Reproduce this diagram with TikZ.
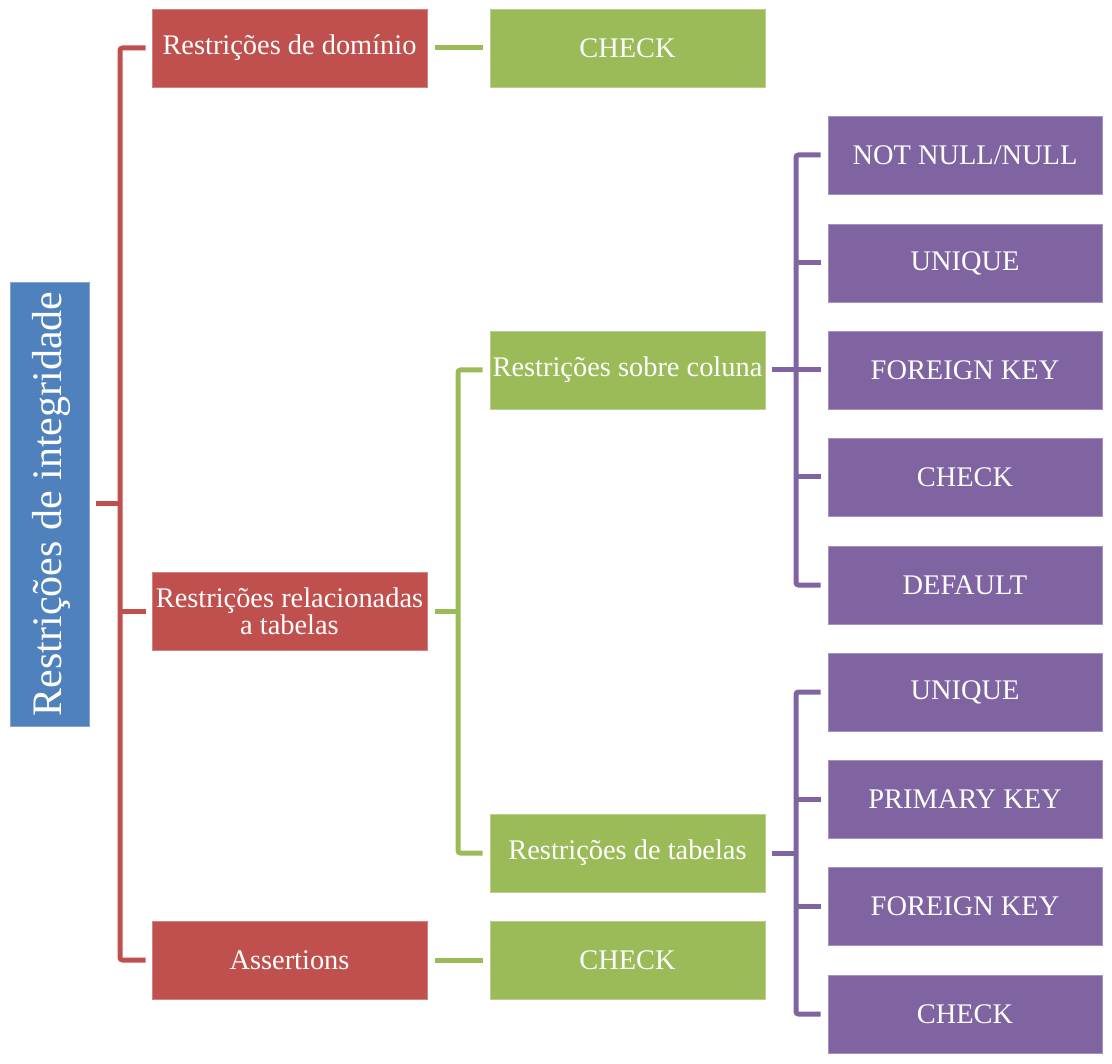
\documentclass[tikz,border=0pt]{standalone}
\usepackage{fontspec}
\setmainfont{Liberation Serif}
\usetikzlibrary{positioning}
\definecolor{cred}{HTML}{C0504D}
\definecolor{cgreen}{HTML}{9BBB59}
\definecolor{cpurple}{HTML}{8064A2}
\definecolor{cblue}{HTML}{4F81BD}
\begin{document}
\begin{tikzpicture}[x=1pt,y=-1pt,
  box/.style={rectangle, minimum width=275pt, minimum height=78pt, inner sep=0pt,
    text=white, align=center, font=\fontsize{28.4}{32}\selectfont, line width=0.8pt},
  redbox/.style={box, fill=cred, draw=cred!70!white},
  greenbox/.style={box, fill=cgreen, draw=cgreen!70!white},
  purplebox/.style={box, fill=cpurple, draw=cpurple!70!white, minimum width=274pt},
  link/.style={line width=5pt, rounded corners=2.5pt},
  redl/.style={link, draw=cred},
  greenl/.style={link, draw=cgreen},
  purplel/.style={link, draw=cpurple}]
\useasboundingbox (0,0) rectangle (1112,1064);

% root
\node[rectangle, fill=cblue, draw=cblue!70!white, line width=0.8pt, minimum width=79pt, minimum height=444pt, inner sep=0pt] (root) at (49.5,504) {};
\node[rotate=90, text=white, font=\fontsize{42}{48}\selectfont] (roottxt) at ([xshift=2pt]root.center) {Restrições de integridade};

% first level
\node[redbox] (dom) at (289.5,48) {Restrições de domínio};
\node[redbox] (rel) at (289.5,611) {Restrições relacionadas\\[-5pt]a tabelas};
\node[redbox] (ass) at (289.5,960) {Assertions};

% second level
\node[greenbox] (chk1) at (627.5,48) {CHECK};
\node[greenbox] (col) at (627.5,370) {Restrições sobre coluna};
\node[greenbox] (tab) at (627.5,853) {Restrições de tabelas};
\node[greenbox] (chk2) at (627.5,960) {CHECK};

% third level
\node[purplebox] (nn)  at (965,155) {NOT NULL/NULL};
\node[purplebox] (un1) at (965,263) {UNIQUE};
\node[purplebox] (fk1) at (965,370) {FOREIGN KEY};
\node[purplebox] (ck1) at (965,477) {CHECK};
\node[purplebox] (df)  at (965,585) {DEFAULT};
\node[purplebox] (un2) at (965,692) {UNIQUE};
\node[purplebox] (pk)  at (965,799) {PRIMARY KEY};
\node[purplebox] (fk2) at (965,906) {FOREIGN KEY};
\node[purplebox] (ck2) at (965,1014) {CHECK};

% red connectors
\coordinate (rt) at (120,504);
\draw[redl] ([xshift=-6pt]dom.west) -| (rt) |- ([xshift=-6pt]ass.west);
\draw[redl] ([xshift=7pt]root.east) -- (rt);
\draw[redl] (rt |- rel.west) -- ([xshift=-6pt]rel.west);

% green connectors
\draw[greenl] ([xshift=8pt]dom.east) -- ([xshift=-7pt]chk1.west);
\draw[greenl] ([xshift=8pt]ass.east) -- ([xshift=-7pt]chk2.west);
\coordinate (gt) at (458,611);
\draw[greenl] ([xshift=-7pt]col.west) -| (gt) |- ([xshift=-7pt]tab.west);
\draw[greenl] ([xshift=8pt]rel.east) -- (gt);

% purple connectors
\coordinate (pt1) at (796,370);
\draw[purplel] ([xshift=-7pt]nn.west) -| (pt1) |- ([xshift=-7pt]df.west);
\draw[purplel] ([xshift=7pt]col.east) -- ([xshift=-7pt]fk1.west);
\draw[purplel] (pt1 |- un1.west) -- ([xshift=-7pt]un1.west);
\draw[purplel] (pt1 |- ck1.west) -- ([xshift=-7pt]ck1.west);

\coordinate (pt2) at (796,853);
\draw[purplel] ([xshift=-7pt]un2.west) -| (pt2) |- ([xshift=-7pt]ck2.west);
\draw[purplel] ([xshift=7pt]tab.east) -- (pt2);
\draw[purplel] (pt2 |- pk.west) -- ([xshift=-7pt]pk.west);
\draw[purplel] (pt2 |- fk2.west) -- ([xshift=-7pt]fk2.west);
\end{tikzpicture}
\end{document}
